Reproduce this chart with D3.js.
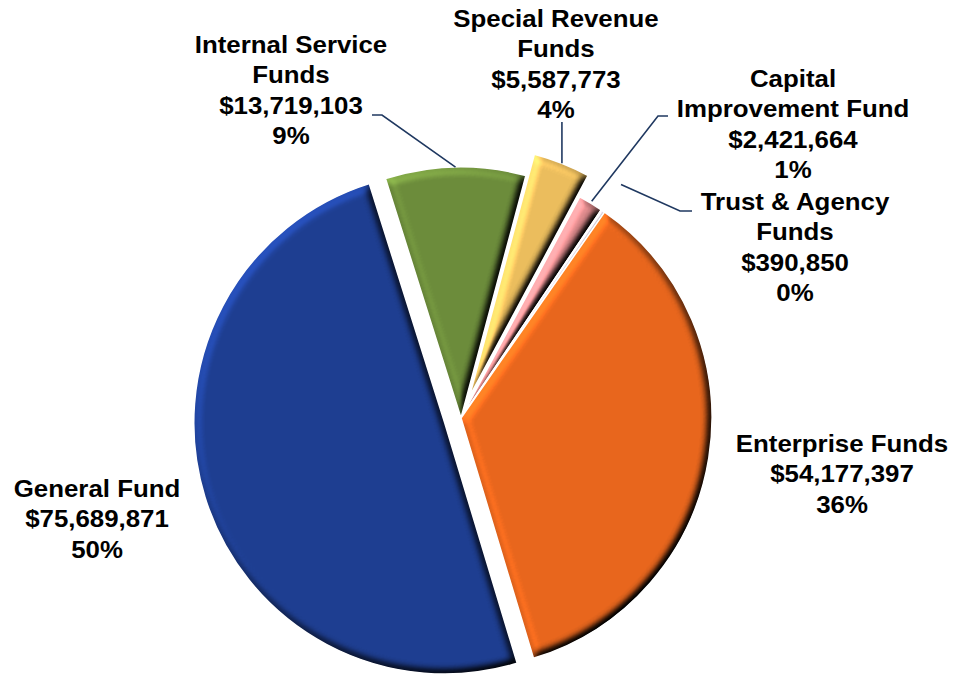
<!DOCTYPE html>
<html>
<head>
<meta charset="utf-8">
<script src="https://cdn.jsdelivr.net/npm/d3@7"></script>
<style>
  html, body { margin: 0; padding: 0; background: #ffffff; }
  svg { display: block; font-family: "Liberation Sans", Arial, sans-serif; }
</style>
</head>
<body>
<svg id="chart" width="958" height="679"></svg>
<script>
// Fund budget data, in drawing order (clockwise from the top)
const funds = ["Internal Service Funds", "Special Revenue Funds", "Capital Improvement Fund",
               "Trust & Agency Funds", "Enterprise Funds", "General Fund"];
const amounts = [13719103, 5587773, 2421664, 390850, 54177397, 75689871];
const percentLabels = ["9%", "4%", "1%", "0%", "36%", "50%"];
const nameLines = [["Internal Service", "Funds"], ["Special Revenue", "Funds"], ["Capital", "Improvement Fund"],
                   ["Trust & Agency", "Funds"], ["Enterprise Funds"], ["General Fund"]];

// Appearance
const sliceColors = ["#6C8C3B", "#EBBD5D", "#DC898B", "#EEE8F2", "#E8661D", "#1E3E91"];
const explode = [0, 23, 0, 0, 0, 17];
const cx = 461, cy = 418, radius = 251;
const startDeg = -17.5;

// Label placement: centre x, first baseline, leader start points, leader end radius
const labelLayout = [
  { x: 291, y: 53,  leader: [[372, 115], [382, 115]], r: 251 },
  { x: 556, y: 27,  leader: "vertical", top: 122, r: 251 },
  { x: 793, y: 87,  leader: [[668, 116], [658, 116]], r: 253 },
  { x: 795, y: 210, leader: [[692, 211], [680, 211]], r: 283 },
  { x: 842, y: 452, leader: null },
  { x: 97,  y: 497, leader: null }
];
const lineGap = 30.4;

const svg = d3.select("#chart");
const defs = svg.append("defs");

// Bevel: lit from the upper left, blurred alpha acts as a height map
const bevel = defs.append("filter").attr("id", "bevel")
  .attr("x", "-5%").attr("y", "-5%").attr("width", "110%").attr("height", "110%")
  .attr("color-interpolation-filters", "sRGB");
bevel.append("feGaussianBlur").attr("in", "SourceAlpha").attr("stdDeviation", 4.5).attr("result", "blur");
bevel.append("feDiffuseLighting").attr("in", "blur").attr("surfaceScale", 6.5)
  .attr("diffuseConstant", 1).attr("lighting-color", "#ffffff").attr("result", "light")
  .append("feDistantLight").attr("azimuth", 225).attr("elevation", 50);
bevel.append("feComposite").attr("in", "SourceGraphic").attr("in2", "light")
  .attr("operator", "arithmetic").attr("k1", 1.305).attr("k2", 0).attr("k3", 0).attr("k4", 0)
  .attr("result", "lit");
bevel.append("feComposite").attr("in", "lit").attr("in2", "SourceAlpha").attr("operator", "in");

const toRad = Math.PI / 180;
const pie = d3.pie().sort(null).value(d => d)
  .startAngle(startDeg * toRad).endAngle(startDeg * toRad + 2 * Math.PI);
const arcs = pie(amounts);
const arc = d3.arc().innerRadius(0).outerRadius(radius);

function offsetOf(d, i) {
  const mid = (d.startAngle + d.endAngle) / 2;
  return [explode[i] * Math.sin(mid), -explode[i] * Math.cos(mid)];
}

const slices = svg.append("g").attr("class", "slices");
arcs.forEach((d, i) => {
  const [dx, dy] = offsetOf(d, i);
  const g = slices.append("g").attr("transform", `translate(${cx + dx},${cy + dy})`);
  g.append("path").attr("d", arc(d)).attr("fill", sliceColors[i]).attr("filter", "url(#bevel)");
  g.append("path").attr("d", arc(d)).attr("fill", "none")
    .attr("stroke", "#ffffff").attr("stroke-width", 1.5).attr("stroke-linejoin", "round");
});

// Leader lines
const leaders = svg.append("g").attr("class", "leaders")
  .attr("fill", "none").attr("stroke", "#1F3860").attr("stroke-width", 1.6);
arcs.forEach((d, i) => {
  const L = labelLayout[i];
  if (!L.leader) return;
  const mid = (d.startAngle + d.endAngle) / 2;
  const [dx, dy] = offsetOf(d, i);
  const end = [cx + dx + L.r * Math.sin(mid), cy + dy - L.r * Math.cos(mid)];
  const pts = L.leader === "vertical" ? [[end[0], L.top], end] : [...L.leader, end];
  leaders.append("path").attr("d", d3.line()(pts));
});

// Data labels
const fmt = d3.format("$,");
const labels = svg.append("g").attr("class", "labels");
arcs.forEach((d, i) => {
  const L = labelLayout[i];
  const lines = [...nameLines[i], fmt(amounts[i]), percentLabels[i]];
  const t = labels.append("g").attr("transform", `translate(${L.x},${L.y})`)
    .append("text").attr("transform", "scale(1.1,1)")
    .attr("text-anchor", "middle").attr("font-size", 23.5).attr("font-weight", "bold").attr("fill", "#000");
  lines.forEach((s, k) => t.append("tspan").attr("x", 0).attr("y", k * lineGap).text(s));
});
</script>
</body>
</html>
